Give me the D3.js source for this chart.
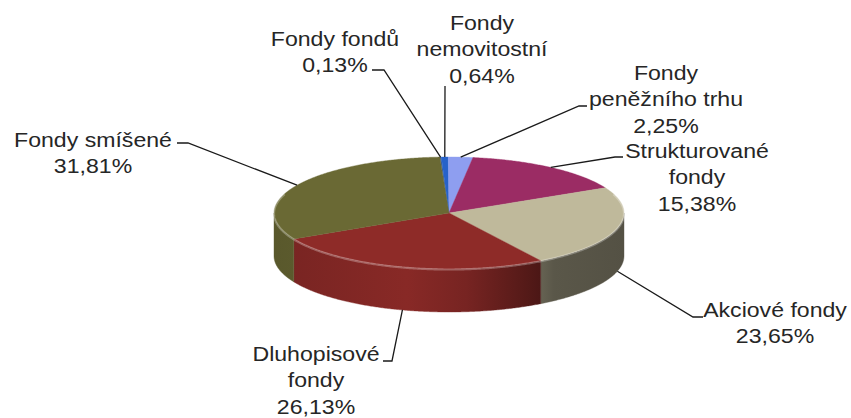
<!DOCTYPE html>
<html>
<head>
<meta charset="utf-8">
<script src="https://cdn.jsdelivr.net/npm/d3@7/dist/d3.min.js"></script>
<style>
  html, body { margin: 0; padding: 0; background: #fff; }
  svg { display: block; }
  text { font-family: "Liberation Sans", Arial, sans-serif; fill: #262626; }
</style>
</head>
<body>
<svg id="chart" width="851" height="418"></svg>
<script>
// Podíl jednotlivých typů fondů (%)
const categories = [
  "Fondy fondů",
  "Fondy nemovitostní",
  "Fondy peněžního trhu",
  "Strukturované fondy",
  "Akciové fondy",
  "Dluhopisové fondy",
  "Fondy smíšené"
];
const shares = [0.13, 0.64, 2.25, 15.38, 23.65, 26.13, 31.81];
const labelLines = [
  ["Fondy fondů"],
  ["Fondy", "nemovitostní"],
  ["Fondy", "peněžního trhu"],
  ["Strukturované", "fondy"],
  ["Akciové fondy"],
  ["Dluhopisové", "fondy"],
  ["Fondy smíšené"]
];
const topColors = ["#3a5f9e", "#2762c9", "#8e9ef0", "#9b2c64", "#bfb99b", "#8e2b28", "#6a6934"];

// Label placement: text centre, first baseline, start of the leader tick
const labelLayout = [
  { x: 335, y: 46,  tick: [[372, 70], [384, 70]] },
  { x: 482, y: 30,  tick: [[445, 86], [445, 88]] },
  { x: 666, y: 80,  tick: [[587, 106], [579, 106]] },
  { x: 697, y: 158, tick: [[623, 157], [615, 157]] },
  { x: 775, y: 317, tick: [[703, 317], [693, 317]] },
  { x: 316, y: 361, tick: [[383, 361], [392, 361]] },
  { x: 93,  y: 147, tick: [[177, 143], [188, 143]] }
];

const svg = d3.select("#chart");
const cx = 449, cy = 213, rx = 175, ry = 56, depth = 43;
const lineGap = 26.5;
const stretch = 1.1;

const pie = d3.pie().sort(null).value(d => d)
  .startAngle(-3 * Math.PI / 180)
  .endAngle(2 * Math.PI - 3 * Math.PI / 180);
const arcs = pie(shares);

// Elliptical projection of the pie rim (angle measured clockwise from 12 o'clock)
const px = d3.scaleLinear().domain([-1, 1]).range([cx - rx, cx + rx]);
const py = d3.scaleLinear().domain([-1, 1]).range([cy + ry, cy - ry]);
const proj = (a, z = 0) => [px(Math.sin(a)), py(Math.cos(a)) + z];

function rimPoints(a0, a1, z) {
  const n = Math.max(2, Math.ceil(Math.abs(a1 - a0) / 0.008));
  return d3.range(n + 1).map(i => proj(a0 + (a1 - a0) * i / n, z));
}
const line = d3.line();

const defs = svg.append("defs");
defs.append("filter").attr("id", "soft")
  .append("feGaussianBlur").attr("stdDeviation", 0.7);

function shade(hex, f) {
  const c = d3.rgb(hex);
  return d3.rgb(c.r * f, c.g * f, c.b * f).formatHex();
}

// Front walls, lit from the front-left
const front0 = Math.PI / 2, front1 = 3 * Math.PI / 2;
arcs.forEach((d, i) => {
  const g = defs.append("linearGradient").attr("id", "side" + i)
    .attr("gradientUnits", "userSpaceOnUse")
    .attr("x1", cx - rx).attr("x2", cx + rx).attr("y1", 0).attr("y2", 0);
  [[0, 0.84], [0.38, 0.96], [0.55, 0.84], [0.72, 0.6], [0.8, 0.47], [1, 0.44]].forEach(([o, f]) => {
    g.append("stop").attr("offset", o).attr("stop-color", shade(topColors[i], f));
  });
});

const sides = svg.append("g");
arcs.forEach((d, i) => {
  const s0 = Math.max(d.startAngle, front0), s1 = Math.min(d.endAngle, front1);
  if (s0 >= s1) return;
  const pts = rimPoints(s0, s1, 0).concat(rimPoints(s1, s0, depth));
  sides.append("path")
    .attr("d", line(pts) + "Z")
    .attr("fill", `url(#side${i})`)
    .attr("stroke", `url(#side${i})`)
    .attr("stroke-width", 0.4);
});

// Top faces
const tops = svg.append("g");
arcs.forEach((d, i) => {
  const pts = [[cx, cy]].concat(rimPoints(d.startAngle, d.endAngle, 0));
  tops.append("path")
    .attr("d", line(pts) + "Z")
    .attr("fill", topColors[i])
    .attr("stroke", topColors[i])
    .attr("stroke-width", 0.4);
});

// Rounded rim highlight along the front edge
svg.append("path")
  .attr("d", line(rimPoints(front0 - 0.35, front1 + 0.35, 0.5)))
  .attr("fill", "none")
  .attr("stroke", "#fff")
  .attr("stroke-opacity", 0.28)
  .attr("stroke-width", 2.2)
  .attr("filter", "url(#soft)");

// Labels and leader lines
const fmt = v => d3.format(".2f")(v).replace(".", ",") + "%";
const labels = svg.append("g");
arcs.forEach((d, i) => {
  const L = labelLayout[i];
  const mid = (d.startAngle + d.endAngle) / 2;
  const onFront = mid > front0 && mid < front1;
  const end = proj(mid, onFront ? depth : 0);
  labels.append("path")
    .attr("d", line([L.tick[0], L.tick[1], end]))
    .attr("fill", "none")
    .attr("stroke", "#1a1a1a")
    .attr("stroke-width", 1.3);

  const lines = labelLines[i].concat([fmt(d.data)]);
  const t = labels.append("g")
    .attr("transform", `translate(${L.x},${L.y}) scale(${stretch},1)`);
  lines.forEach((s, j) => {
    t.append("text")
      .attr("x", 0).attr("y", j * lineGap)
      .attr("text-anchor", "middle")
      .attr("font-size", 21)
      .text(s);
  });
});
</script>
</body>
</html>
